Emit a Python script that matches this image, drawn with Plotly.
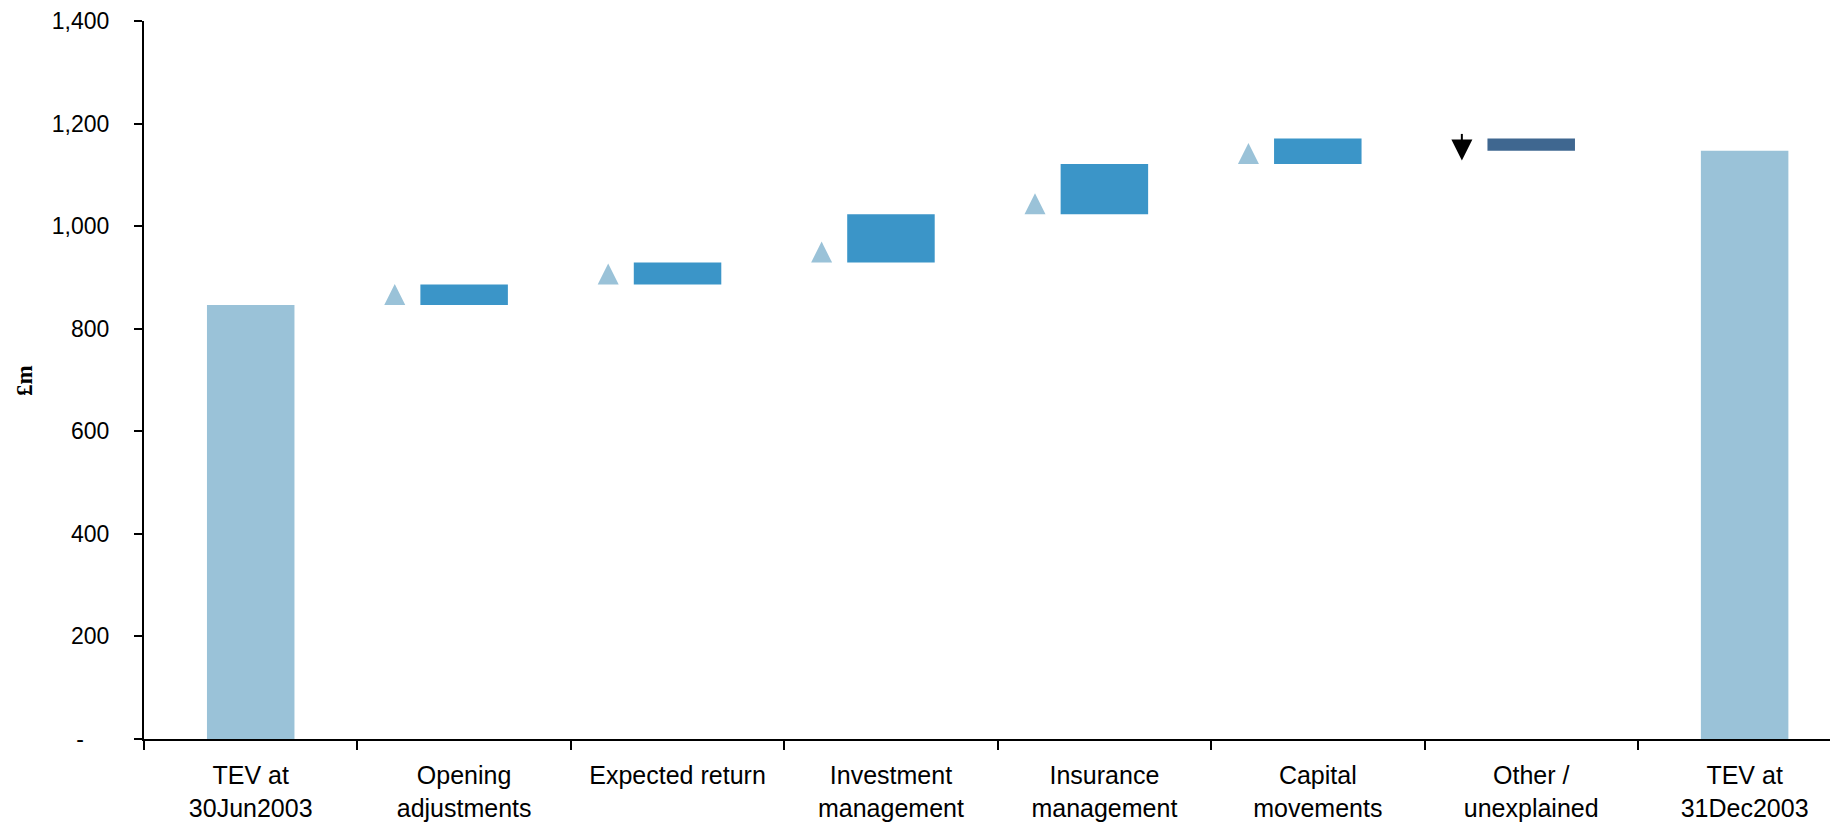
import plotly.graph_objects as go

# Embedded value walk, £m
categories = [
    "TEV at<br>30Jun2003",
    "Opening<br>adjustments",
    "Expected return",
    "Investment<br>management",
    "Insurance<br>management",
    "Capital<br>movements",
    "Other /<br>unexplained",
    "TEV at<br>31Dec2003",
]
opening_tev = 846
movements = [40, 43, 94, 98, 50, -24]
closing_tev = 1147

y_ticks = [0, 200, 400, 600, 800, 1000, 1200, 1400]
y_tick_labels = ["-\u00a0\u00a0\u00a0\u00a0", "200", "400", "600", "800", "1,000", "1,200", "1,400"]

LIGHT = "#9AC2D8"
MID = "#3B95C8"
DARK = "#3F6790"

# running totals for the floating bars
bases, tops = [], []
level = opening_tev
for m in movements:
    bases.append(min(level, level + m))
    tops.append(max(level, level + m))
    level += m
starts = [opening_tev] + [opening_tev + sum(movements[:i]) for i in range(1, len(movements))]

idx = list(range(len(categories)))
move_idx = idx[1:-1]
bar_w = 0.41

fig = go.Figure()

# opening and closing totals
fig.add_trace(go.Bar(
    x=[idx[0], idx[-1]], y=[opening_tev, closing_tev],
    width=bar_w, marker=dict(color=LIGHT, line=dict(width=0)),
    hoverinfo="skip",
))

# movement bars
fig.add_trace(go.Bar(
    x=move_idx,
    y=[t - b for t, b in zip(tops, bases)],
    base=bases,
    width=bar_w,
    marker=dict(color=[MID if m > 0 else DARK for m in movements], line=dict(width=0)),
    hoverinfo="skip",
))

# direction markers beside each movement
arrow_off = 0.325
tip_gap = 41
up = [(i, s) for i, s, m in zip(move_idx, starts, movements) if m > 0]
down = [(i, s) for i, s, m in zip(move_idx, starts, movements) if m < 0]
fig.add_trace(go.Scatter(
    x=[i - arrow_off for i, _ in up], y=[s + tip_gap for _, s in up],
    mode="markers",
    marker=dict(symbol="arrow-up", size=21, color=LIGHT, line=dict(width=0)),
    hoverinfo="skip",
))
fig.add_trace(go.Scatter(
    x=[i - arrow_off for i, _ in down], y=[s - tip_gap - 2 for _, s in down],
    mode="markers",
    marker=dict(symbol="arrow-down", size=21, color="black", line=dict(width=0)),
    hoverinfo="skip",
))
# short stem on top of the falling marker
fig.add_trace(go.Scatter(
    x=[i - arrow_off for i, _ in down], y=[s + 2 for _, s in down],
    mode="markers",
    marker=dict(symbol="line-ns", size=5, color="black", line=dict(width=2, color="black")),
    hoverinfo="skip",
))

fig.update_layout(
    width=1830, height=825,
    margin=dict(l=144, r=0, t=21, b=86),
    paper_bgcolor="white", plot_bgcolor="white",
    showlegend=False,
    barmode="overlay",
    font=dict(family="Liberation Sans, Arial, sans-serif", size=23, color="black"),
    xaxis=dict(
        type="linear",
        range=[-0.5, 7.40],
        tickmode="array", tickvals=idx, ticktext=categories,
        ticks="", showgrid=False, zeroline=False,
        showline=True, linecolor="black", linewidth=2,
        tickfont=dict(size=25),
        ticklabelstandoff=13,
        minor=dict(ticks="outside", ticklen=9, tickwidth=2, tickcolor="black",
                   tick0=0.5, dtick=1, showgrid=False),
    ),
    yaxis=dict(
        range=[0, 1400],
        tickmode="array", tickvals=y_ticks, ticktext=y_tick_labels,
        ticks="outside", ticklen=8, tickwidth=2, tickcolor="black",
        showgrid=False, zeroline=False,
        showline=True, linecolor="black", linewidth=2,
        ticklabelstandoff=20,
    ),
    annotations=[dict(
        text="<b>£m</b>", textangle=-90,
        xref="paper", yref="paper", x=-120 / 1686, y=0.5,
        xanchor="center", yanchor="middle", showarrow=False,
        font=dict(family="Liberation Serif, Times New Roman, serif", size=23, color="black"),
    )],
)

fig.write_html("out.html")
